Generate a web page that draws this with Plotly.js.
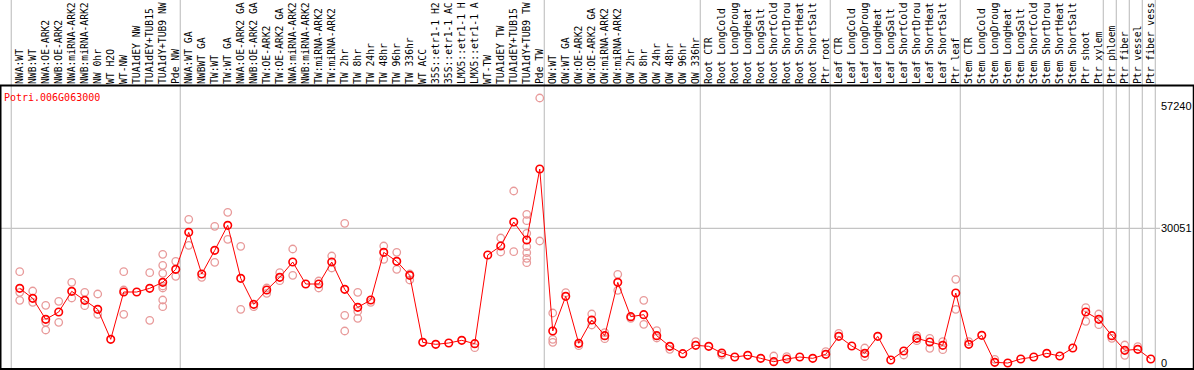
<!DOCTYPE html>
<html><head><meta charset="utf-8">
<script src="https://cdn.plot.ly/plotly-3.0.1.min.js"></script>
<style>html,body{margin:0;padding:0;background:#fff;overflow:hidden}#chart{width:1194px;height:370px}</style>
</head><body><div id="chart"></div>
<script>
const geneId = "Potri.006G063000";

const categories = [
  "NWA:WT","NWB:WT","NWA:OE-ARK2","NWB:OE-ARK2","NWA:miRNA-ARK2","NWB:miRNA-ARK2","NW 0hr","WT H2O","WT-NW",
  "TUA1dEY NW","TUA1dEY+TUB15","TUA1dY+TUB9 NW","Pde NW",
  "NWA:WT GA","NWBWT GA","TW:WT","TW:WT GA","NWA:OE-ARK2 GA","NWB:OE-ARK2 GA","TW:OE-ARK2","TW:OE-ARK2 GA",
  "NWA:miRNA-ARK2","NWB:miRNA-ARK2","TW:miRNA-ARK2","TW:miRNA-ARK2","TW 2hr","TW 8hr","TW 24hr","TW 48hr","TW 96hr","TW 336hr",
  "WT ACC","35S::etr1-1 H2","35S::etr1-1 AC","LMX5::etr1-1 H","LMX5::etr1-1 A","WT-TW","TUA1dEY TW","TUA1dEY+TUB15","TUA1dY+TUB9 TW","Pde TW",
  "OW:WT","OW:WT GA","OW:OE-ARK2","OW:OE-ARK2 GA","OW:miRNA-ARK2","OW:miRNA-ARK2","OW 2hr","OW 8hr","OW 24hr","OW 48hr","OW 96hr","OW 336hr",
  "Root CTR","Root LongCold","Root LongDroug","Root LongHeat","Root LongSalt","Root ShortCold","Root ShortDrou","Root ShortHeat","Root ShortSalt","Ptr root",
  "Leaf CTR","Leaf LongCold","Leaf LongDroug","Leaf LongHeat","Leaf LongSalt","Leaf ShortCold","Leaf ShortDrou","Leaf ShortHeat","Leaf ShortSalt","Ptr leaf",
  "Stem CTR","Stem LongCold","Stem LongDroug","Stem LongHeat","Stem LongSalt","Stem ShortCold","Stem ShortDrou","Stem ShortHeat","Stem ShortSalt","Ptr shoot",
  "Ptr xylem","Ptr phloem","Ptr fiber","Ptr vessel","Ptr fiber vess"
];

const meanValues = [
  16659,14428,9743,11378,15990,13982,11974,5281,15840,15840,16659,17997,20898,
  29152,19856,25137,30714,18890,13089,16286,19113,22533,17625,17625,22533,16436,12420,14055,24690,22683,19559,
  4611,4165,4462,5058,4313,24095,26103,31457,27441,43281,
  7139,14874,4388,9593,6097,17997,10336,10782,6097,3719,2082,3942,
  3719,2231,1339,1711,1042,297,892,1339,1042,1934,
  5950,3793,2157,5950,669,2677,5504,4685,3942,15617,
  4165,6173,149,0,892,1339,2157,1562,3347,11378,
  9743,6097,2827,3050,892
];

const replicateValues = [
  [20376,15767,13982],[16063,13536],[12866,9073,7362],[13759,9073],[17997,14502],[15767,12790],[15394,10858],[],
  [20376,16286,10858],[],[20153,9520],[24244,21790,20005,17179,16733,14055,12567],[22683,19336],
  [32053,26252],[19113],[30491,22459],[33614,27591],[26029,11974],[12567],[16733,15543],[20153,18368],
  [25433,19559],[],[18294,16733],[23872,21195],[31160,10635,7139],[15767,11528,9966],[13536],[26103,23129],[24690,20898],[19856,18517],
  [],[],[],[],[3420],[],[27888,24764],[38373,24838],[33168,31754,28929,25953,24615,23352,22384],[59122,27218],
  [11155,5281,4611],[15691],[3866],[10932,8478],[6767,5428],[19782,16213],[9966],[13982,8627],[7213,5578],[3050],[],[4759],
  [],[1785],[],[],[],[1562],[1412],[],[],[2528],
  [6619],[],[3347,1412],[],[],[1785],[6097,4982],[5504,3273],[4759,2974],[18667,11974],
  [4759],[],[819],[],[],[],[],[],[],[12344,9297],
  [10932,8551],[5504],[4016,1711],[3643],[]
];

const groupStarts = [0, 13, 41, 53, 63, 73, 84, 85, 86, 87, 88];
const yTickValues = [0, 30051, 57240];
const yTickLabels = ["0", "30051", "57240"];

const W = 1194, H = 370;
const M = {l: 1, r: 34, t: 86, b: 1};
const plotW = W - M.l - M.r, plotH = H - M.t - M.b;
const xRange = [-1.44, 87.71];
const yRange = [-1339, 61799];

const idx = categories.map((_, i) => i);
const repX = [], repY = [];
replicateValues.forEach((arr, i) => arr.forEach(v => { repX.push(i); repY.push(v); }));

const xToPaper = x => (x - xRange[0]) / (xRange[1] - xRange[0]);
const pxX = px => (px - M.l) / plotW;
const pxY = py => (H - M.b - py) / plotH;

const shapes = [];
groupStarts.forEach(k => {
  const xp = xToPaper(k - 0.65);
  shapes.push({type: 'line', xref: 'paper', yref: 'paper', x0: xp, x1: xp, y0: pxY(H), y1: pxY(0),
    line: {color: '#c4c4c4', width: 1.2}, layer: 'below'});
});
shapes.push({type: 'line', xref: 'paper', yref: 'y', x0: 0, x1: 1, y0: yTickValues[1], y1: yTickValues[1],
  line: {color: '#c4c4c4', width: 1.2}, layer: 'below'});
// frame
shapes.push({type: 'line', xref: 'paper', yref: 'paper', x0: pxX(0), x1: pxX(W), y0: pxY(85.5), y1: pxY(85.5), line: {color: '#000', width: 2}});
shapes.push({type: 'line', xref: 'paper', yref: 'paper', x0: pxX(0), x1: pxX(W), y0: pxY(369), y1: pxY(369), line: {color: '#000', width: 2}});
shapes.push({type: 'line', xref: 'paper', yref: 'paper', x0: pxX(0.5), x1: pxX(0.5), y0: pxY(85.5), y1: pxY(370), line: {color: '#000', width: 2}});
shapes.push({type: 'line', xref: 'paper', yref: 'paper', x0: pxX(1193.5), x1: pxX(1193.5), y0: pxY(85.5), y1: pxY(370), line: {color: '#000', width: 1.5}});

const traces = [
  {x: repX, y: repY, type: 'scatter', mode: 'markers', hoverinfo: 'skip',
   marker: {symbol: 'circle-open', size: 7.5, color: '#e89a9a', line: {width: 1.3, color: '#e89a9a'}}},
  {x: idx, y: meanValues, type: 'scatter', mode: 'lines+markers',
   line: {color: '#ff0000', width: 1},
   marker: {symbol: 'circle-open', size: 7.5, color: '#ff0000', line: {width: 1.6, color: '#ff0000'}}}
];

const layout = {
  width: W, height: H,
  margin: M,
  paper_bgcolor: '#ffffff', plot_bgcolor: 'rgba(0,0,0,0)',
  showlegend: false,
  title: {text: geneId, x: 3 / W, xanchor: 'left', xref: 'paper', y: 1 - 97 / H, yanchor: 'middle', yref: 'container',
          font: {family: 'DejaVu Sans Mono', size: 10, color: '#ff0000'}},
  xaxis: {type: 'linear', range: xRange, side: 'top', tickmode: 'array', tickvals: idx, ticktext: categories,
          tickangle: -90, showgrid: false, zeroline: false, showline: false, ticks: '', ticklen: 0, ticklabelstandoff: 1,
          tickfont: {family: 'DejaVu Sans Mono', size: 9.7, color: '#000'}, fixedrange: true},
  yaxis: {range: yRange, side: 'right', tickmode: 'array', tickvals: yTickValues, ticktext: yTickLabels,
          showgrid: false, zeroline: false, showline: false, ticks: '', ticklen: 0,
          tickfont: {family: 'Liberation Sans', size: 11, color: '#000'}, fixedrange: true},
  shapes: shapes
};

Plotly.newPlot('chart', traces, layout, {displayModeBar: false, staticPlot: true});
</script>
</body></html>
